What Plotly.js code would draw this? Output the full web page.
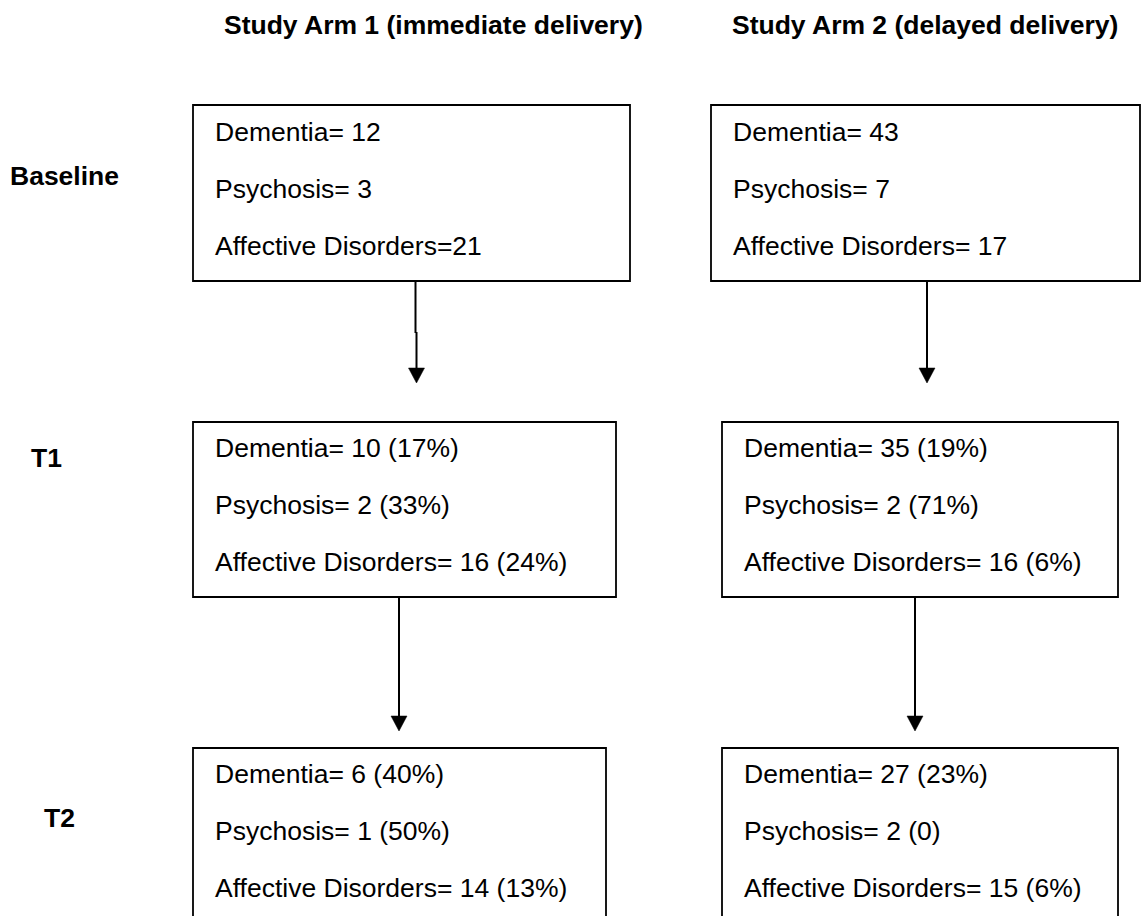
<!DOCTYPE html>
<html>
<head>
<meta charset="utf-8">
<script src="https://cdn.plot.ly/plotly-3.0.1.min.js"></script>
<style>html,body{margin:0;padding:0;background:#fff;}#chart{width:1141px;height:916px;}</style>
</head>
<body>
<div id="chart"></div>
<script>
// ---- data ----
const armTitles = ["Study Arm 1 (immediate delivery)", "Study Arm 2 (delayed delivery)"];
const timepoints = ["Baseline", "T1", "T2"];
const categories = ["Dementia", "Psychosis", "Affective Disorders"];
// text between "=" and the number, as printed
const arm1BaselineSep = [" ", " ", ""];
const arm2BaselineSep = [" ", " ", " "];
const arm1Baseline = [12, 3, 21];
const arm2Baseline = [43, 7, 17];
const arm1T1 = [10, 2, 16];
const arm1T1Pct = ["17%", "33%", "24%"];
const arm2T1 = [35, 2, 16];
const arm2T1Pct = ["19%", "71%", "6%"];
const arm1T2 = [6, 1, 14];
const arm1T2Pct = ["40%", "50%", "13%"];
const arm2T2 = [27, 2, 15];
const arm2T2Pct = ["23%", "0", "6%"];

// ---- layout geometry (pixels) ----
const FONT = "Liberation Sans, Arial, Helvetica, sans-serif";
const FS = 26.5;
const boxes = [
  {x0:193, x1:630,  y0:105, y1:281, tx:214, ty:131.5, vals:arm1Baseline, sep:arm1BaselineSep},
  {x0:711, x1:1140, y0:105, y1:281, tx:732, ty:131.5, vals:arm2Baseline, sep:arm2BaselineSep},
  {x0:193, x1:616,  y0:422, y1:597, tx:214, ty:447.5, vals:arm1T1, pct:arm1T1Pct},
  {x0:722, x1:1118, y0:422, y1:597, tx:743, ty:447.5, vals:arm2T1, pct:arm2T1Pct},
  {x0:193, x1:606,  y0:748, y1:940, tx:214, ty:773.5, vals:arm1T2, pct:arm1T2Pct},
  {x0:722, x1:1118, y0:748, y1:940, tx:743, ty:773.5, vals:arm2T2, pct:arm2T2Pct}
];
const LINE_GAP = 57;
// each arrow: shaft segments (x, from y, to y) and the tip
const arrows = [
  {segs:[[415.5, 281, 333], [416.5, 332, 369]], x:416.5, tip:383},
  {segs:[[927, 281, 369]], x:927, tip:383},
  {segs:[[399, 597, 717]], x:399, tip:731},
  {segs:[[915, 597, 717]], x:915, tip:731}
];
const headerPos = [{x:223, y:24.5}, {x:731, y:24.5}];
const labelPos = [{x:9, y:175.5}, {x:30, y:457.5}, {x:43, y:817.5}];

const shapes = [];
const annotations = [];

boxes.forEach(b => {
  shapes.push({type:"rect", xref:"x", yref:"y", x0:b.x0, x1:b.x1, y0:b.y0, y1:b.y1,
    line:{color:"#000", width:1.8}, fillcolor:"rgba(0,0,0,0)"});
  categories.forEach((c, i) => {
    let txt;
    if (b.pct) txt = c + "= " + b.vals[i] + " (" + b.pct[i] + ")";
    else txt = c + "=" + b.sep[i] + b.vals[i];
    annotations.push({x:b.tx, y:b.ty + i*LINE_GAP, xref:"x", yref:"y", text:txt,
      showarrow:false, xanchor:"left", yanchor:"middle", borderpad:0,
      font:{family:FONT, size:FS, color:"#000"}});
  });
});

arrows.forEach(a => {
  a.segs.forEach(s => {
    shapes.push({type:"line", xref:"x", yref:"y", x0:s[0], x1:s[0], y0:s[1], y1:s[2],
      line:{color:"#000", width:2}});
  });
  shapes.push({type:"path", xref:"x", yref:"y",
    path:"M " + (a.x-8) + " " + (a.tip-15) + " L " + (a.x+8) + " " + (a.tip-15) + " L " + a.x + " " + a.tip + " Z",
    fillcolor:"#000", line:{color:"#000", width:0.5}});
});

armTitles.forEach((t, i) => {
  annotations.push({x:headerPos[i].x, y:headerPos[i].y, xref:"x", yref:"y", text:"<b>"+t+"</b>",
    showarrow:false, xanchor:"left", yanchor:"middle", borderpad:0,
    font:{family:FONT, size:FS, color:"#000"}});
});
timepoints.forEach((t, i) => {
  annotations.push({x:labelPos[i].x, y:labelPos[i].y, xref:"x", yref:"y", text:"<b>"+t+"</b>",
    showarrow:false, xanchor:"left", yanchor:"middle", borderpad:0,
    font:{family:FONT, size:FS, color:"#000"}});
});

const layout = {
  width:1141, height:916,
  margin:{l:0, r:0, t:0, b:0, pad:0},
  paper_bgcolor:"#fff", plot_bgcolor:"#fff",
  showlegend:false,
  xaxis:{range:[0,1141], visible:false, fixedrange:true},
  yaxis:{range:[916,0], visible:false, fixedrange:true},
  shapes:shapes,
  annotations:annotations
};
Plotly.newPlot("chart", [{x:[], y:[], type:"scatter", hoverinfo:"skip"}], layout, {displayModeBar:false, staticPlot:true});
</script>
</body>
</html>
